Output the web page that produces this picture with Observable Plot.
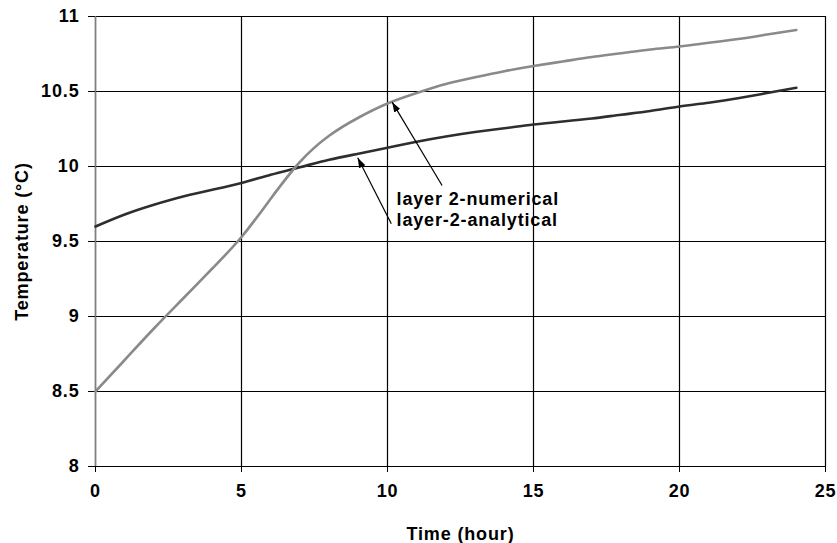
<!DOCTYPE html>
<html>
<head>
<meta charset="utf-8">
<script src="https://cdn.jsdelivr.net/npm/d3@7"></script>
<script src="https://cdn.jsdelivr.net/npm/@observablehq/plot@0.6"></script>
<style>
  html, body { margin: 0; padding: 0; background: white; }
</style>
</head>
<body>
<div id="chart"></div>
<script>
const hours = [0,1,2,3,4,5,6,7,8,9,10,11,12,13,14,15,16,17,18,19,20,21,22,23,24];
const numerical = [8.50,8.71,8.92,9.12,9.32,9.53,9.785,10.03,10.205,10.325,10.42,10.49,10.55,10.595,10.635,10.67,10.70,10.73,10.755,10.78,10.80,10.825,10.85,10.88,10.91];
const analytical = [9.60,9.68,9.745,9.80,9.845,9.89,9.945,9.995,10.045,10.085,10.125,10.165,10.20,10.23,10.255,10.28,10.30,10.32,10.345,10.37,10.40,10.425,10.455,10.49,10.525];
const xTicks = [0,5,10,15,20,25];
const yTicks = [8,8.5,9,9.5,10,10.5,11];
const annLabels = ["layer 2-numerical", "layer-2-analytical"];
const annX = [10.31, 10.31];
const annY = [9.779, 9.64];
const arrowFromX = [11.87, 10.13];
const arrowFromY = [9.873, 9.618];
const arrowToX = [10.16, 8.98];
const arrowToY = [10.429, 10.058];

const numRows = hours.map((h, i) => ({h, v: numerical[i]}));
const anaRows = hours.map((h, i) => ({h, v: analytical[i]}));
const annRows = annLabels.map((t, i) => ({t, x: annX[i], y: annY[i]}));
const arrowRows = arrowFromX.map((x1, i) => ({x1, y1: arrowFromY[i], x2: arrowToX[i], y2: arrowToY[i]}));

function filledArrow(color) {
  const m = d3.create("svg:marker")
    .attr("viewBox", "-10 -5 10 10")
    .attr("markerWidth", 10)
    .attr("markerHeight", 10)
    .attr("markerUnits", "userSpaceOnUse")
    .attr("orient", "auto")
    .attr("fill", color)
    .attr("stroke", "none");
  m.append("path").attr("d", "M-10,-3.5L0,0L-10,3.5Z");
  return m.node();
}

function build(customMarker) {
  const arrowMark = customMarker
    ? Plot.link(arrowRows, {x1: "x1", y1: "y1", x2: "x2", y2: "y2", stroke: "black", strokeWidth: 1.2, markerEnd: filledArrow})
    : Plot.arrow(arrowRows, {x1: "x1", y1: "y1", x2: "x2", y2: "y2", stroke: "black", strokeWidth: 1.2, headLength: 9, headAngle: 40});
  return Plot.plot({
    width: 837,
    height: 543,
    marginLeft: 95,
    marginRight: 12,
    marginTop: 16,
    marginBottom: 77,
    x: {domain: [0, 25]},
    y: {domain: [8, 11]},
    style: {
      fontFamily: "'Liberation Sans', Arial, sans-serif",
      fontSize: "18px",
      fontWeight: "bold",
      letterSpacing: "0.85px",
      background: "white",
      color: "black",
      overflow: "visible"
    },
    marks: [
      Plot.gridX(xTicks, {stroke: "black", strokeOpacity: 1, strokeWidth: 1.2}),
      Plot.gridY(yTicks, {stroke: "black", strokeOpacity: 1, strokeWidth: 1.2}),
      Plot.ruleX([0], {stroke: "#808080", strokeWidth: 1.5}),
      Plot.axisY(yTicks, {
        tickSize: 7, tickPadding: 9, fontSize: 18, fontWeight: "bold", tickFormat: d => `${d}`,
        label: "Temperature (°C)", labelAnchor: "center", labelArrow: "none", labelOffset: 80
      }),
      Plot.axisX(xTicks, {
        tickSize: 6, tickPadding: 12, fontSize: 18, fontWeight: "bold", tickFormat: d => `${d}`,
        label: "Time (hour)", labelAnchor: "center", labelArrow: "none", labelOffset: 73
      }),
      Plot.line(anaRows, {x: "h", y: "v", stroke: "#2e2e2e", strokeWidth: 2.6, curve: "natural"}),
      Plot.line(numRows, {x: "h", y: "v", stroke: "#8a8a8a", strokeWidth: 2.6, curve: "natural"}),
      arrowMark,
      Plot.text(annRows, {x: "x", y: "y", text: "t", textAnchor: "start", lineAnchor: "middle", fontSize: 18, fontWeight: "bold", fill: "black"})
    ]
  });
}

let chart;
try { chart = build(true); } catch (e) { chart = build(false); }
document.getElementById("chart").appendChild(chart);
</script>
</body>
</html>
